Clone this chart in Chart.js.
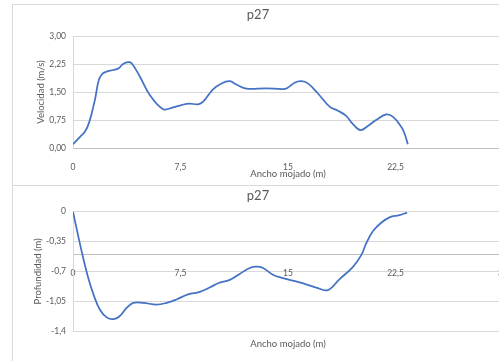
<!DOCTYPE html>
<html lang="es">
<head>
<meta charset="UTF-8">
<title>p27</title>
<script src="https://cdn.jsdelivr.net/npm/chart.js"></script>
<style>
    html, body {
        margin: 0;
        padding: 0;
        background: #ffffff;
        overflow: hidden;
        width: 499px;
        height: 361px;
    }

    .panel {
        position: absolute;
        left: 12px;
        width: 512px;
        height: 182px;
        box-sizing: border-box;
        border: 1px solid #d9d9d9;
        background: #ffffff;
    }

    #panelTop { top: 4px; }
    #panelBottom { top: 185px; }

    canvas { display: block; }
</style>
</head>
<body>
<div class="panel" id="panelTop"><canvas id="chartVel" width="499" height="179"></canvas></div>
<div class="panel" id="panelBottom"><canvas id="chartProf" width="499" height="179"></canvas></div>

<script>
    // Velocidad (m/s) vs ancho mojado (m)
    const velAncho = [0, 0.49, 0.84, 1.14, 1.53, 1.8, 2.05, 2.3, 2.81, 3.16, 3.5, 3.85, 4.09, 4.67, 5.36, 6.29, 6.99,
        7.57, 8.1, 8.73, 9.08, 9.77, 10.36, 10.94, 11.4, 12.1, 13.49, 14.65, 14.96, 15.46, 15.93, 16.39,
        17.09, 17.9, 18.48, 19.06, 19.53, 20.06, 20.57, 21.15, 21.85, 22.31, 22.9, 23.13, 23.36];
    const velocidad = [0.10, 0.30, 0.44, 0.70, 1.29, 1.82, 1.99, 2.04, 2.09, 2.13, 2.25, 2.30, 2.27, 1.91, 1.42, 1.04, 1.09,
        1.15, 1.19, 1.17, 1.24, 1.57, 1.73, 1.79, 1.70, 1.59, 1.60, 1.58, 1.61, 1.75, 1.79, 1.73,
        1.46, 1.11, 1.00, 0.86, 0.64, 0.48, 0.59, 0.75, 0.90, 0.84, 0.57, 0.39, 0.10];

    // Profundidad (m) vs ancho mojado (m)
    const profAncho = [0, 0.37, 0.72, 1.07, 1.49, 1.88, 2.35, 2.81, 3.23, 3.74, 4.2, 4.9, 5.83, 6.53, 7.22,
        8.03, 8.85, 9.54, 10.12, 10.94, 11.63, 12.33, 12.8, 13.26, 13.95, 14.65, 15.81, 16.97, 17.78,
        18.6, 19.52, 20.11, 20.46, 20.92, 21.5, 22.08, 22.78, 23.31];
    const profundidad = [0, -0.29, -0.55, -0.78, -1.0, -1.15, -1.24, -1.26, -1.23, -1.13, -1.07, -1.07, -1.09, -1.07, -1.03,
        -0.97, -0.94, -0.89, -0.84, -0.80, -0.73, -0.66, -0.645, -0.66, -0.74, -0.78, -0.83, -0.89, -0.92,
        -0.79, -0.65, -0.51, -0.37, -0.23, -0.13, -0.066, -0.04, -0.01];

    // tick values
    const anchoTicksVel = [0, 7.5, 15, 22.5];
    const anchoTicksProf = [0, 7.5, 15, 22.5, 30];
    const velTicks = [0, 0.75, 1.5, 2.25, 3];
    const profTicks = [-1.4, -1.05, -0.7, -0.35, 0];
    const ejeCruce = -0.5;

    const gris = '#595959';
    const rejilla = '#d9d9d9';
    const linea = '#bfbfbf';
    const azul = '#4472c4';
    const fuente = 'Lato, "Open Sans", sans-serif';

    // decimal comma, like the spreadsheet
    function coma(v, dec) {
        if (dec !== undefined) return v.toFixed(dec).replace('.', ',');
        return String(Math.round(v * 100) / 100).replace('.', ',');
    }

    function puntos(xs, ys) {
        return xs.map((x, i) => ({ x: x, y: ys[i] }));
    }

    function fijarTicks(lista) {
        return scale => { scale.ticks = lista.map(v => ({ value: v })); };
    }

    function serie(xs, ys) {
        return {
            data: puntos(xs, ys),
            showLine: true,
            borderColor: azul,
            borderWidth: 1.75,
            pointRadius: 0,
            tension: 0.4,
            fill: false
        };
    }

    function ejeY(min, max, lista, fmt, titulo, tituloPad) {
        return {
            type: 'linear',
            min: min,
            max: max,
            afterBuildTicks: fijarTicks(lista),
            afterFit: s => { s.width = 60; s.paddingTop = 0; s.paddingBottom = 0; },
            grid: { color: rejilla, drawTicks: false },
            border: { display: true, color: rejilla },
            ticks: { color: gris, padding: 7, font: { family: fuente, size: 8.5 }, callback: fmt },
            title: {
                display: true, text: titulo, color: gris,
                font: { family: fuente, size: 9.5 },
                padding: { top: tituloPad, bottom: 0 }
            }
        };
    }

    const comunes = {
        responsive: false,
        animation: false,
        events: [],
        plugins: { legend: { display: false }, tooltip: { enabled: false } }
    };

    // top chart: velocidad
    new Chart(document.getElementById('chartVel'), {
        type: 'scatter',
        data: { datasets: [serie(velAncho, velocidad)] },
        options: Object.assign({}, comunes, {
            layout: { padding: { left: 0, right: 9, top: 0, bottom: 0 } },
            plugins: Object.assign({}, comunes.plugins, {
                title: {
                    display: true, text: 'p27', color: gris,
                    font: { family: fuente, size: 13, weight: 'normal' },
                    padding: { top: 2, bottom: 13.4 }
                }
            }),
            scales: {
                x: {
                    type: 'linear',
                    min: 0,
                    max: 30,
                    afterBuildTicks: fijarTicks(anchoTicksVel),
                    afterFit: s => { s.height = 36; s.paddingLeft = 0; s.paddingRight = 0; },
                    grid: { display: false },
                    border: { display: true, color: linea },
                    ticks: { color: gris, padding: 6, maxRotation: 0, font: { family: fuente, size: 8.5 }, callback: v => coma(v) },
                    title: {
                        display: true, text: 'Ancho mojado (m)', color: gris,
                        font: { family: fuente, size: 9.5 },
                        padding: { top: 0, bottom: 4.6 }
                    }
                },
                y: ejeY(0, 3, velTicks, v => coma(v, 2), 'Velocidad (m/s)', 22.3)
            }
        })
    });

    // bottom chart: profundidad, horizontal axis crosses at -0,5
    new Chart(document.getElementById('chartProf'), {
        type: 'scatter',
        data: { datasets: [serie(profAncho, profundidad)] },
        options: Object.assign({}, comunes, {
            layout: { padding: { left: 0, right: 9, top: 0, bottom: 0 } },
            plugins: Object.assign({}, comunes.plugins, {
                title: {
                    display: true, text: 'p27', color: gris,
                    font: { family: fuente, size: 13, weight: 'normal' },
                    padding: { top: 2, bottom: 8.1 }
                }
            }),
            scales: {
                x: {
                    type: 'linear',
                    min: 0,
                    max: 30,
                    afterBuildTicks: fijarTicks(anchoTicksProf),
                    afterFit: s => { s.height = 34; s.paddingLeft = 0; s.paddingRight = 0; },
                    grid: { display: false },
                    border: { display: false },
                    ticks: { display: false },
                    title: {
                        display: true, text: 'Ancho mojado (m)', color: gris,
                        font: { family: fuente, size: 9.5 },
                        padding: { top: 0, bottom: 15.3 }
                    }
                },
                x2: {
                    type: 'linear',
                    position: { y: ejeCruce },
                    min: 0,
                    max: 30,
                    afterBuildTicks: fijarTicks(anchoTicksProf),
                    afterFit: s => { s.paddingLeft = 0; s.paddingRight = 0; },
                    grid: { display: false },
                    border: { display: true, color: linea },
                    ticks: { color: gris, padding: 5.5, maxRotation: 0, font: { family: fuente, size: 8.5 }, callback: v => coma(v) }
                },
                y: ejeY(-1.4, 0, profTicks, v => coma(v), 'Profundidad (m)', 19.3)
            }
        })
    });
</script>
</body>
</html>
